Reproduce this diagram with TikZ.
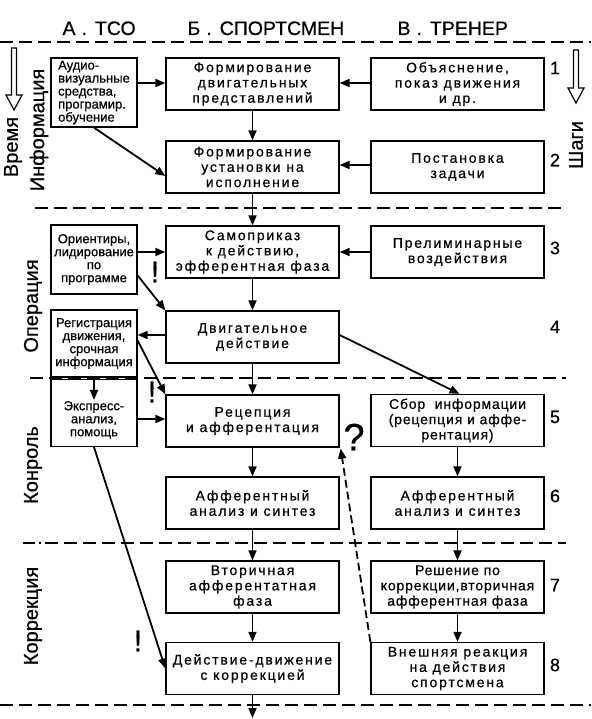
\documentclass[tikz,border=0pt]{standalone}
\usepackage{fontspec}
\setmainfont[FakeBold=0.6]{Liberation Sans}
\newfontfamily\bxf[LetterSpace=13,FakeBold=0.6]{Liberation Sans}
\newfontfamily\bxg[LetterSpace=6,FakeBold=0.6]{Liberation Sans}
\usetikzlibrary{arrows.meta,calc}
\begin{document}
\begin{tikzpicture}[x=1pt,y=-1pt,
  bx/.style={draw, line width=1.3pt, fill=white, minimum width=173pt, minimum height=52pt,
    align=center, inner sep=1pt, font=\bxf\fontsize{14}{15.3}\selectfont},
  ax/.style={draw, line width=1.3pt, fill=white, minimum width=86pt,
    align=center, inner sep=1pt, font=\fontsize{13}{13}\selectfont},
  arr/.style={line width=1.8pt, -{Triangle[length=10pt,width=8pt]}},
  darr/.style={line width=1.8pt, dash pattern=on 8pt off 4pt, -{Triangle[length=10pt,width=8pt]}},
  sep/.style={line width=1.1pt, dash pattern=on 13pt off 6pt},
  num/.style={font=\fontsize{18}{18}\selectfont},
  side/.style={rotate=90, font=\fontsize{20}{20}\selectfont},
  hdr/.style={anchor=base west, font=\fontsize{19.5}{19.5}\selectfont},
  excl/.style={font=\fontsize{30}{30}\selectfont},
  hollow/.style={line width=1.2pt}]
\useasboundingbox (0,0) rectangle (591,719);

% headers
\node[hdr] (ha) at (59,35) {А\hspace{6pt}.\hspace{8pt}ТСО};
\node[hdr] (hb) at (184,35) {Б\hspace{6pt}.\hspace{8pt}СПОРТСМЕН};
\node[hdr] (hv) at (394,35) {В\hspace{6pt}.\hspace{8pt}ТРЕНЕР};

% separators
\draw[sep] (0,42) -- (591,42);
\draw[sep] (35,208) -- (566,208);
\draw[sep] (30,378) -- (566,378);
\draw[line width=1.1pt, dash pattern=on 12pt off 4pt on 2pt off 4pt] (23,543) -- (41,543);
\draw[sep] (45,543) -- (566,543);
\draw[sep] (0,705) -- (591,705);

% side labels
\draw[hollow] (11.5,48) -- (16.5,48) -- (16.5,95) -- (22,95) -- (14,110) -- (6,95) -- (11.5,95) -- cycle;
\node[side] (lt) at (13,147) {Время};
\node[side] (li) at (39,130) {Информация};
\node[side] (lo) at (33,306) {Операция};
\node[side] (lk) at (33,465) {Конроль};
\node[side] (lc) at (33,616) {Коррекция};
\draw[hollow] (573.5,50) -- (578.5,50) -- (578.5,88) -- (584,88) -- (576,103) -- (568,88) -- (573.5,88) -- cycle;
\node[side] (ls) at (576,145) {Шаги};

% numbers
\node[num] (n1) at (555,68) {1};
\node[num] (n2) at (555,160) {2};
\node[num] (n3) at (555,248) {3};
\node[num] (n4) at (555,327) {4};
\node[num] (n5) at (555,417) {5};
\node[num] (n6) at (555,496) {6};
\node[num] (n7) at (555,585) {7};
\node[num] (n8) at (555,665) {8};

% column A
\node[ax, minimum height=69pt, align=left] (a1) at (94,92.5) {Аудио-\\визуальные\\средства,\\програмир.\\обучение};
\node[ax, minimum height=69pt] (a3) at (94,259.5) {Ориентиры,\\лидирование\\по\\программе};
\node[ax, minimum height=67pt] (a4) at (94,343.5) {Регистрация\\движения,\\срочная\\информация};
\node[ax, minimum height=67pt] (a5) at (94,413) {};
\node[font=\fontsize{13}{13}\selectfont, align=center, inner sep=1pt] (a5t) at (94,420) {Экспресс-\\анализ,\\помощь};

% column B
\node[bx] (b1) at (252.5,84) {Формирование\\двигательных\\представлений};
\node[bx] (b2) at (252.5,167) {Формирование\\установки на\\исполнение};
\node[bx] (b3) at (252.5,252) {Самоприказ\\к действию,\\эфферентная фаза};
\node[bx] (b4) at (252.5,337) {Двигательное\\действие};
\node[bx] (b5) at (252.5,421) {Рецепция\\и афферентация};
\node[bx] (b6) at (252.5,503) {Афферентный\\анализ и синтез};
\node[bx] (b7) at (252.5,587) {Вторичная\\афферентатная\\фаза};
\node[bx] (b8) at (252.5,668.5) {Действие-движение\\с коррекцией};
\coordinate (bend) at (252.5,718);

% column V
\node[bx] (v1) at (457.5,84) {Объяснение,\\показ движения\\и др.};
\node[bx] (v2) at (457.5,167) {Постановка\\задачи};
\node[bx] (v3) at (457.5,252) {Прелиминарные\\воздействия};
\node[bx, font=\bxg\fontsize{14}{15.3}\selectfont] (v5) at (457.5,420.5) {Сбор\ \ информации\\(рецепция и аффе-\\рентация)};
\node[bx] (v6) at (457.5,503) {Афферентный\\анализ и синтез};
\node[bx, font=\bxg\fontsize{14}{15.3}\selectfont] (v7) at (457.5,587) {Решение по\\коррекции,вторичная\\афферентная фаза};
\node[bx] (v8) at (457.5,668.5) {Внешняя реакция\\на действия\\спортсмена};

% marks
\node[excl] (m1) at (155,272) {!};
\node[excl] (m2) at (152,392) {!};
\node[excl] (m3) at (138,641) {!};
\node[font=\fontsize{38}{38}\selectfont] (mq) at (354,437) {?};

% vertical arrows B
\draw[arr] (b1) -- (b2);
\draw[arr] (b2) -- (b3);
\draw[arr] (b3) -- (b4);
\draw[arr] (b4) -- (b5);
\draw[arr] (b5) -- (b6);
\draw[arr] (b6) -- (b7);
\draw[arr] (b7) -- (b8);
\draw[arr] (b8) -- (bend);
% vertical arrows V
\draw[arr] (v5) -- (v6);
\draw[arr] (v6) -- (v7);
\draw[arr] (v7) -- (v8);
% horizontal arrows
\draw[arr] (v1.west |- 0,83) -- (b1.east |- 0,83);
\draw[arr] (v2.west |- 0,165) -- (b2.east |- 0,165);
\draw[arr] (v3) -- (b3);
\draw[arr] (a1.east |- 0,83) -- (b1.west |- 0,83);
\draw[arr] (a1.south) -- ($(b2.west)+(0,9)$);
\draw[arr] (a3.east |- b3.west) -- (b3.west);
\draw[arr] ($(a3.east)+(0,16)$) -- (b4.north west);
\draw[arr] (b4.west |- 0,335) -- (a4.east |- 0,335);
\draw[arr] ($(a4.east)+(0,-3)$) -- (b5.north west);
\draw[arr] (a4.south) -- (a5t.north);
\draw[arr] (a5.east |- 0,419) -- (b5.west |- 0,419);
\draw[arr] (a5.south) -- (b8.west);
\draw[arr] (b4.east |- 0,335) -- ($(v5.north)+(2,0)$);
\draw[darr] (v8.north west) -- ($(b5.south east)+(1,1)$);
\end{tikzpicture}
\end{document}
